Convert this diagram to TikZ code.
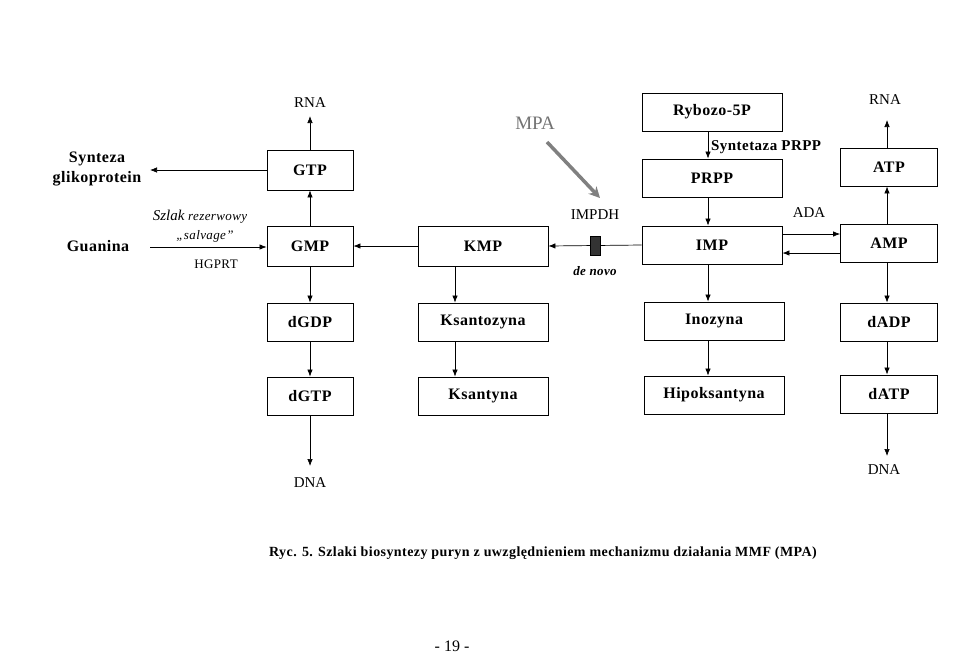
\documentclass[tikz,border=0pt]{standalone}
\usepackage{fontspec}
\setmainfont{Liberation Serif}
\usetikzlibrary{arrows.meta,calc}
\newcommand{\fs}[1]{\fontsize{#1}{#1}\selectfont}
\newcommand{\spc}{\addfontfeatures{LetterSpace=3}}
\begin{document}
\begin{tikzpicture}[x=1pt,y=-1pt,
  box/.style={draw, line width=0.9pt, inner sep=0pt, minimum height=38pt, font=\fs{16}\bfseries\spc},
  c1/.style={box, minimum width=86pt},
  c2/.style={box, minimum width=130pt},
  c3/.style={box, minimum width=140pt},
  c4/.style={box, minimum width=97pt},
  arr/.style={line width=0.7pt, -{Latex[length=7pt,width=5.5pt]}},
  lbl/.style={inner sep=0pt, font=\fs{15}},
  blbl/.style={inner sep=0pt, font=\fs{16}\bfseries\spc, align=center}]
\useasboundingbox (0,0) rectangle (960,657);
% column 1
\node[c1, minimum height=40pt] (GTP) at (310,170) {GTP};
\node[c1, minimum height=40pt] (GMP) at (310,246) {GMP};
\node[c1] (dGDP) at (310,322) {dGDP};
\node[c1] (dGTP) at (310,396) {dGTP};
% column 2
\node[c2, minimum height=40pt] (KMP) at (483,246) {KMP};
\node[c2] (Ksantozyna) at (483,322) {Ksantozyna};
\node[c2] (Ksantyna) at (483,396) {Ksantyna};
% column 3
\node[c3] (Ryb) at (712,112) {Rybozo-5P};
\node[c3] (PRPP) at (712,178) {PRPP};
\node[c3] (IMP) at (712,245) {IMP};
\node[c3] (Ino) at (714,321) {Inozyna};
\node[c3] (Hip) at (714,395) {Hipoksantyna};
% column 4
\node[c4] (ATP) at (889,167) {ATP};
\node[c4] (AMP) at (889,243) {AMP};
\node[c4] (dADP) at (889,322) {dADP};
\node[c4] (dATP) at (889,394) {dATP};
% free labels
\node[lbl] (RNAl) at (310,103) {RNA};
\node[lbl] (RNAr) at (885,100) {RNA};
\node[lbl] (DNAl) at (310,483) {DNA};
\node[lbl] (DNAr) at (884,470) {DNA};
\node[blbl] (Synt) at (97,169) {Synteza\\[4pt]glikoprotein};
\node[blbl] (Guan) at (98,246) {Guanina};
\node[inner sep=0pt, font=\itshape] (Szlak) at (200,217) {\fs{15}Szlak \fs{13}\spc rezerwowy};
\node[inner sep=0pt, font=\fs{13}\itshape\spc] (salv) at (205,236) {„salvage”};
\node[inner sep=0pt, font=\fs{13}\spc] (HGPRT) at (216,264) {HGPRT};
\node[lbl] (IMPDH) at (595,215) {IMPDH};
\node[inner sep=0pt, font=\fs{13}\bfseries\itshape\spc] (denovo) at (595,271) {de novo};
\node[lbl] (ADA) at (809,213) {ADA};
\node[inner sep=0pt, font=\fs{15}\bfseries\spc, anchor=west] (SPRPP) at (711,147) {Syntetaza PRPP};
\node[inner sep=0pt, font=\fs{19}, text=black!55] (MPA) at (535,123) {MPA};
\node[inner sep=0pt, font=\fs{14}\bfseries\spc] (cap) at (543,553) {Ryc. 5. Szlaki biosyntezy puryn z uwzględnieniem mechanizmu działania MMF (MPA)};
\node[inner sep=0pt, font=\fs{16}] (page) at (452,646) {- 19 -};
% helper coordinates
\coordinate (rnaLt) at (310,116);
\coordinate (rnaRt) at (887,120);
\coordinate (dnaLt) at (310,466);
\coordinate (dnaRt) at (887,456);
\coordinate (syntE) at (150,170);
\coordinate (guanE) at (150,247);
\coordinate (mpaS) at (547,142);
\coordinate (mpaE) at (600,198);
\coordinate (yA) at (0,234);
\coordinate (yB) at (0,253);
% connectors column 1
\draw[arr] (GTP.north) -- (rnaLt);
\draw[arr] (GTP.west) -- (syntE);
\draw[arr] (GMP.north) -- (GTP.south);
\draw[arr] (guanE) -- (guanE -| GMP.west);
\draw[arr] (GMP.south) -- (dGDP.north);
\draw[arr] (dGDP.south) -- (dGTP.north);
\draw[arr] (dGTP.south) -- (dnaLt);
% column 2
\draw[arr] (KMP.west) -- (GMP.east);
\draw[arr] ([xshift=-28pt]KMP.south) -- ([xshift=-28pt]Ksantozyna.north);
\draw[arr] ([xshift=-28pt]Ksantozyna.south) -- ([xshift=-28pt]Ksantyna.north);
% IMP -> KMP with block
\draw[arr] (IMP.west) -- (KMP.east);
\node[draw=black, fill=black!80, minimum width=10pt, minimum height=19pt, inner sep=0pt] (block) at (595,246) {};
% column 3
\draw[arr] ([xshift=-4pt]Ryb.south) -- ([xshift=-4pt]PRPP.north);
\draw[arr] ([xshift=-4pt]PRPP.south) -- ([xshift=-4pt]IMP.north);
\draw[arr] ([xshift=-4pt]IMP.south) -- ([xshift=-6pt]Ino.north);
\draw[arr] ([xshift=-6pt]Ino.south) -- ([xshift=-6pt]Hip.north);
% IMP <-> AMP
\draw[arr] (IMP.east |- yA) -- (AMP.west |- yA);
\draw[arr] (AMP.west |- yB) -- (IMP.east |- yB);
% column 4
\draw[arr] ([xshift=-2pt]AMP.north) -- ([xshift=-2pt]ATP.south);
\draw[arr] ([xshift=-2pt]ATP.north) -- (rnaRt);
\draw[arr] ([xshift=-2pt]AMP.south) -- ([xshift=-2pt]dADP.north);
\draw[arr] ([xshift=-2pt]dADP.south) -- ([xshift=-2pt]dATP.north);
\draw[arr] ([xshift=-2pt]dATP.south) -- (dnaRt);
% MPA arrow
\draw[line width=3.5pt, black!50, -{Stealth[length=11pt,width=11pt]}] (mpaS) -- (mpaE);
\end{tikzpicture}
\end{document}
